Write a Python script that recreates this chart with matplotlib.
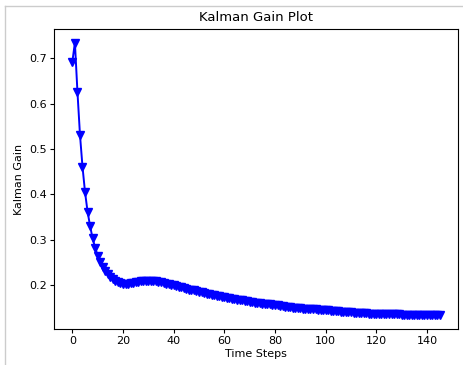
import matplotlib
matplotlib.use("Agg")
import matplotlib.pyplot as plt
from matplotlib.lines import Line2D

# Kalman gain per time step
time_steps = list(range(146))
kalman_gain = [
    0.693, 0.735, 0.627, 0.532, 0.461, 0.405, 0.362, 0.330, 0.303, 0.282,
    0.265, 0.251, 0.240, 0.231, 0.224, 0.218, 0.213, 0.209, 0.206, 0.204,
    0.203, 0.203, 0.203, 0.204, 0.205, 0.206, 0.207, 0.208, 0.208, 0.209,
    0.209, 0.209, 0.209, 0.208, 0.207, 0.206, 0.205, 0.203, 0.202, 0.200,
    0.199, 0.197, 0.196, 0.195, 0.193, 0.192, 0.190, 0.189, 0.188, 0.186,
    0.185, 0.184, 0.182, 0.181, 0.180, 0.179, 0.177, 0.176, 0.175, 0.174,
    0.173, 0.172, 0.171, 0.170, 0.169, 0.168, 0.167, 0.166, 0.165, 0.164,
    0.163, 0.162, 0.161, 0.161, 0.160, 0.159, 0.158, 0.158, 0.157, 0.156,
    0.155, 0.155, 0.154, 0.153, 0.152, 0.152, 0.151, 0.150, 0.150, 0.149,
    0.149, 0.148, 0.148, 0.147, 0.147, 0.146, 0.146, 0.145, 0.145, 0.144,
    0.144, 0.144, 0.143, 0.143, 0.142, 0.142, 0.141, 0.141, 0.140, 0.140,
    0.140, 0.139, 0.139, 0.139, 0.138, 0.138, 0.138, 0.137, 0.137, 0.137,
    0.137, 0.136, 0.136, 0.136, 0.136, 0.135, 0.135, 0.135, 0.135, 0.135,
    0.134, 0.134, 0.134, 0.134, 0.134, 0.134, 0.134, 0.133, 0.133, 0.133,
    0.133, 0.133, 0.133, 0.133, 0.133, 0.134,
]

fig = plt.figure(figsize=(4.63, 3.65), dpi=100)
ax = fig.add_axes([54 / 463, 1 - 329 / 365, 404 / 463, 300 / 365])
ax.plot(time_steps, kalman_gain, "-bv", lw=1.4, ms=5.5)
ax.set_title("Kalman Gain Plot", fontsize=9.5)
ax.set_xlabel("Time Steps", fontsize=8, labelpad=2)
ax.set_ylabel("Kalman Gain", fontsize=8, labelpad=4)
ax.tick_params(labelsize=8, length=3, pad=2)

# light screenshot frame along top and left edges
fig.add_artist(Line2D([5 / 463, 1], [1 - 6 / 365] * 2, color="#cccccc", lw=1))
fig.add_artist(Line2D([5 / 463] * 2, [0, 1 - 6 / 365], color="#cccccc", lw=1))

fig.savefig("out.png", dpi=100)
